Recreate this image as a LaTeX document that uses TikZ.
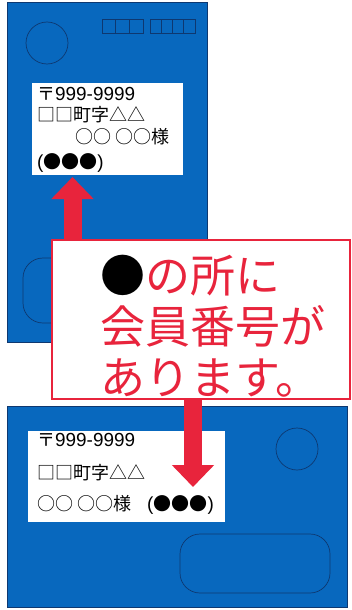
\documentclass[tikz,border=0pt]{standalone}
\usepackage{fontspec}
\setmainfont{Noto Sans CJK JP}
\newfontfamily\latinfont[Scale=1.05]{Liberation Sans}
\usepackage{tikz}
\usetikzlibrary{arrows.meta}
\definecolor{CardBlue}{RGB}{8,104,190}
\definecolor{CardEdge}{RGB}{14,56,112}
\definecolor{NoteRed}{RGB}{232,36,60}
\newcommand{\lat}[1]{{\latinfont #1}}

\begin{document}
\begin{tikzpicture}[x=1pt, y=-1pt,
	card/.style={fill=CardBlue, draw=CardEdge, line width=0.6},
	stampline/.style={draw=CardEdge, line width=0.7},
	addrbox/.style={fill=white, inner sep=0},
	addr/.style={anchor=west, inner sep=0, font=\fontsize{18}{20}\selectfont},
	bigarrow/.style={NoteRed, line width=18, -{Triangle[width=41pt, length=22pt]}}]
	\useasboundingbox (0,0) rectangle (351,610);
	\draw[card] (7,2) rectangle (207,342);
	\draw[stampline] (47,43) circle (21);
	\foreach \x in {102,115.7,129.4} \draw[stampline] (\x,19) rectangle +(13.7,14);
	\foreach \x in {150,161.25,172.5,183.75} \draw[stampline] (\x,19) rectangle +(11.25,14);
	\draw[stampline, rounded corners=20] (23,258) rectangle (110,323);
	\node[addrbox, minimum width=151, minimum height=92] (toplabel) at (107.5,129) {};
	\node[addr] (topzip) at (37,94) {〒\lat{999-9999}};
	\node[addr] (topaddr) at (37,115) {□□町字△△};
	\node[addr] (topname) at (75,137) {○○ ○○様};
	\node[addr] (topno) at (37,163) {\lat{(}●●●\lat{)}};
	\draw[card] (7,406) rectangle (347,607);
	\draw[stampline] (297,449) circle (21);
	\draw[stampline, rounded corners=20] (180,534) rectangle (330,593);
	\node[addrbox, minimum width=197, minimum height=91] (botlabel) at (126.5,476.5) {};
	\node[addr] (botzip) at (37,440) {〒\lat{999-9999}};
	\node[addr] (botaddr) at (37,473) {□□町字△△};
	\node[addr] (botname) at (37,505) {○○ ○○様\hspace{16pt}\lat{(}●●●\lat{)}};
	\node[draw=NoteRed, line width=2, fill=white, minimum width=298, minimum height=159, inner sep=0] (note) at (201,319.5) {};
	\node[anchor=west, align=left, text=NoteRed, inner sep=0, font=\fontsize{45}{51}\selectfont] (notetext) at (100,326) {{\color{black}●}の所に\\会員番号が\\あります。};
	\coordinate (uptip) at (72.5,177);
	\coordinate (downtip) at (193,487);
	\draw[bigarrow] (note.north -| uptip) -- (uptip);
	\draw[bigarrow] (note.south -| downtip) -- (downtip);
\end{tikzpicture}
\end{document}
